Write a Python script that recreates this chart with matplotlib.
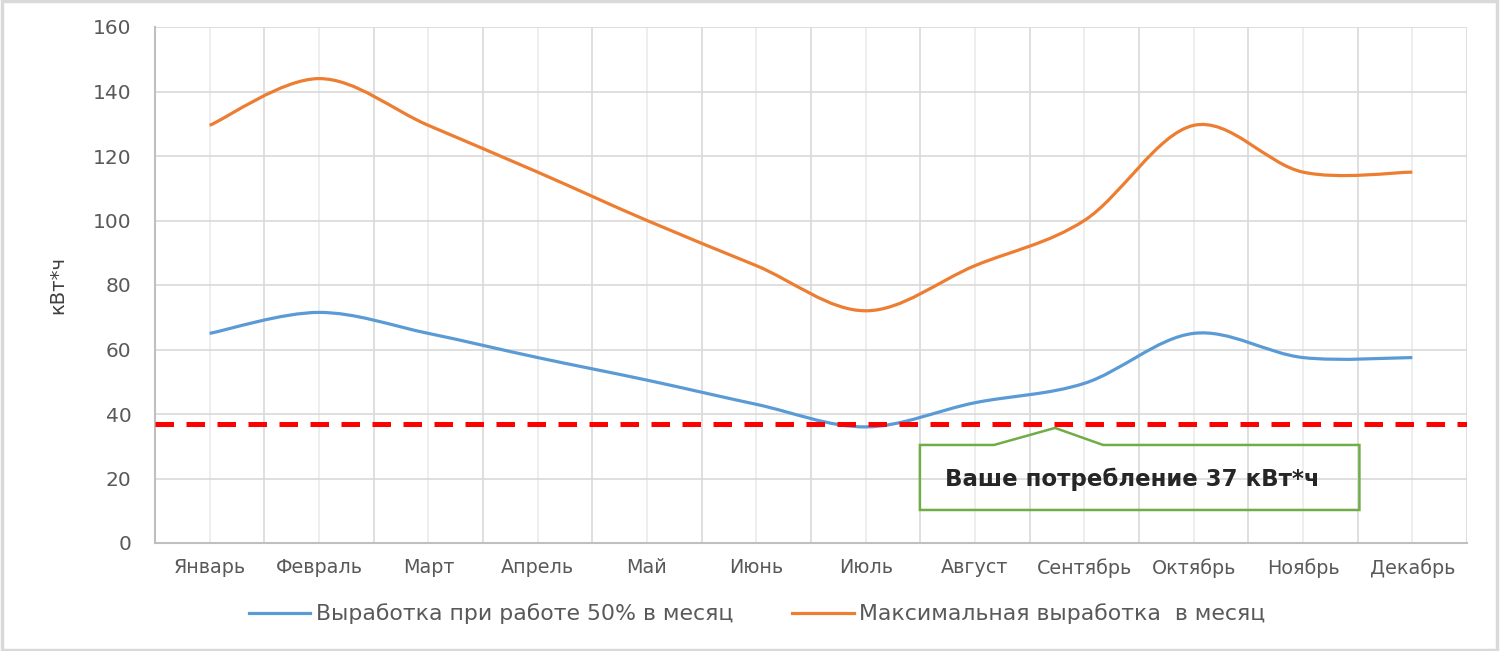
import numpy as np
import matplotlib
matplotlib.use("Agg")
import matplotlib.pyplot as plt
from matplotlib.path import Path
from matplotlib.patches import PathPatch, Polygon, Rectangle
from matplotlib.lines import Line2D

months = ["Январь", "Февраль", "Март", "Апрель", "Май", "Июнь",
          "Июль", "Август", "Сентябрь", "Октябрь", "Ноябрь", "Декабрь"]
half_load = [65, 71.5, 65, 57.5, 50.5, 43, 36, 43.5, 49.5, 65, 57.5, 57.5]
max_output = [129.5, 144, 129.5, 115, 100, 86, 72, 86, 100, 129.5, 115, 115]
consumption = 37

half_label = "Выработка при работе 50% в месяц"
max_label = "Максимальная выработка  в месяц"
note = "Ваше потребление 37 кВт*ч"

BLUE = "#5B9BD5"
ORANGE = "#ED7D31"
TXT = "#595959"


def smooth_path(xs, ys):
    # excel-like smoothed line: catmull-rom turned into cubic bezier segments
    pts = np.column_stack([xs, ys]).astype(float)
    ext = np.vstack([pts[0], pts, pts[-1]])
    verts = [pts[0]]
    codes = [Path.MOVETO]
    for i in range(1, len(ext) - 2):
        p0, p1, p2, p3 = ext[i - 1], ext[i], ext[i + 1], ext[i + 2]
        verts += [p1 + (p2 - p0) / 6, p2 - (p3 - p1) / 6, p2]
        codes += [Path.CURVE4] * 3
    return Path(verts, codes)


fig = plt.figure(figsize=(15.02, 6.51), dpi=100)
ax = fig.add_axes([155 / 1502, 1 - 543 / 651, 1312 / 1502, 516 / 651])

x = np.arange(len(months))
ax.set_xlim(-0.5, len(months) - 0.5)
ax.set_ylim(0, 160)

# grid: lines between categories and lighter ones at category centres
for b in np.arange(-0.5, len(months), 1.0):
    ax.axvline(b, color="#D9D9D9", lw=1.2, zorder=0)
for c in x:
    ax.axvline(c, color="#EBEBEB", lw=1.2, zorder=0)
ax.set_yticks(np.arange(0, 161, 20))
ax.yaxis.grid(True, color="#D9D9D9", lw=1.2, zorder=0)
ax.set_axisbelow(True)

for ys, col in [(half_load, BLUE), (max_output, ORANGE)]:
    ax.add_patch(PathPatch(smooth_path(x, ys), facecolor="none", edgecolor=col,
                           lw=2.3, capstyle="butt", zorder=3))

ax.axhline(consumption, color="#FF0000", lw=3.6, dashes=(3.7, 2.5), zorder=4)

for s in ["top", "right"]:
    ax.spines[s].set_visible(False)
for s in ["left", "bottom"]:
    ax.spines[s].set_color("#BFBFBF")
    ax.spines[s].set_linewidth(1.5)

ax.set_xticks(x)
ax.set_xticklabels(months)
ax.tick_params(axis="both", length=0, colors=TXT)
ax.tick_params(axis="y", pad=17, labelsize=14.5)
ax.tick_params(axis="x", pad=11, labelsize=13.8)
ax.set_ylabel("кВт*ч", fontsize=14, color="#404040")
ax.yaxis.set_label_coords(-0.067, 0.5)

# callout box
callout = [(0.583, 0.064), (0.583, 0.190), (0.6395, 0.190), (0.686, 0.223),
           (0.7226, 0.190), (0.918, 0.190), (0.918, 0.064)]
ax.add_patch(Polygon(callout, closed=True, transform=ax.transAxes,
                     facecolor="none", edgecolor="#70AD47", lw=1.8, zorder=5))
ax.text(0.745, 0.124, note, transform=ax.transAxes, ha="center", va="center",
        fontsize=16.5, fontweight="bold", color="#262626", zorder=6)

handles = [Line2D([], [], color=BLUE, lw=2.3), Line2D([], [], color=ORANGE, lw=2.3)]
fig.legend(handles, [half_label, max_label], loc="center",
           bbox_to_anchor=(0.504, 1 - 614 / 651), ncol=2, frameon=False,
           fontsize=15.8, labelcolor=TXT, handlelength=2.8, handletextpad=0.25,
           columnspacing=2.7)

# outer chart border
fig.add_artist(Rectangle((0.001, 0.002), 0.996, 0.996, transform=fig.transFigure,
                         facecolor="none", edgecolor="#D9D9D9", lw=2.5))

fig.savefig("out.png", dpi=100, facecolor="white")
